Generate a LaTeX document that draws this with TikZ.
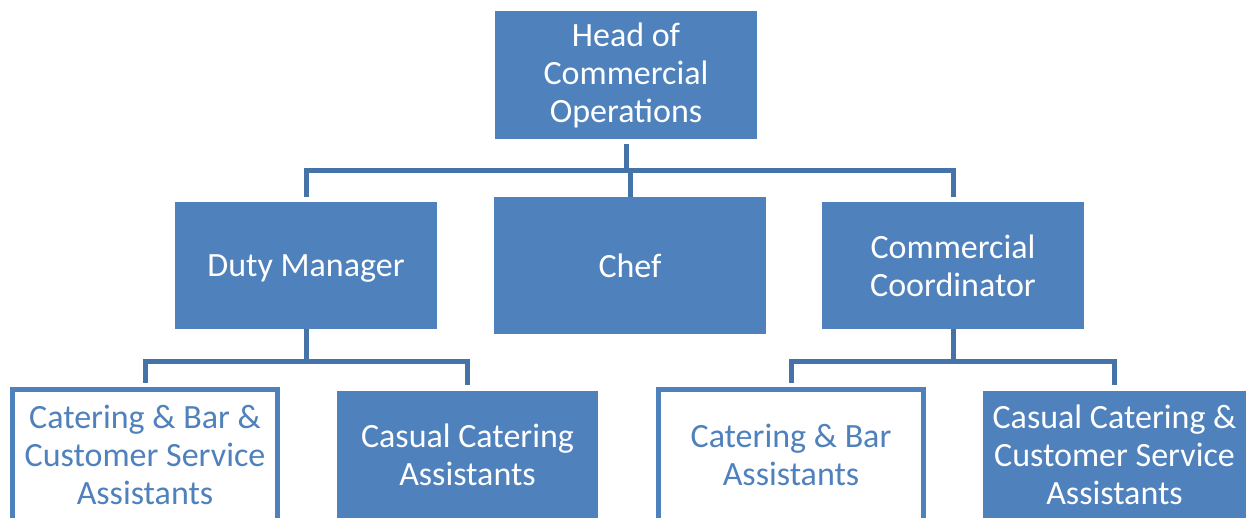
\documentclass[tikz,border=0pt]{standalone}
\usepackage{fontspec}
\setmainfont{Carlito}
\definecolor{boxblue}{HTML}{4F81BD}
\definecolor{lineblue}{HTML}{4573A8}
\begin{document}
\begin{tikzpicture}[x=1pt,y=-1pt,
  every node/.style={inner sep=0pt, align=center, font=\fontsize{34}{38}\selectfont},
  filledbox/.style={fill=boxblue, draw=none, text=white},
  whitebox/.style={fill=white, draw=boxblue, line width=5pt, text=boxblue},
  wtext/.style={text=boxblue, align=center, yshift=10pt},
  conn/.style={draw=lineblue, line width=5pt, line join=miter}]
\useasboundingbox (0,0) rectangle (1246,518);
\clip (0,0) rectangle (1246,518);
% top level
\node[filledbox, minimum width=262pt, minimum height=128pt] (head) at (626,75) {Head of\\Commercial\\Operations};
% second level
\node[filledbox, minimum width=262pt, minimum height=127pt,
  label={[text=white, yshift=-3pt]center:Duty Manager}] (duty) at (306,265.5) {};
\node[filledbox, minimum width=272pt, minimum height=137pt] (chef) at (630,265.5) {Chef};
\node[filledbox, minimum width=262pt, minimum height=127pt] (coord) at (953,265.5) {Commercial\\Coordinator};
% third level
\node[whitebox, minimum width=265pt, minimum height=150pt,
  label={[wtext]center:{Catering \& Bar \&\\Customer Service\\Assistants}}] (w1) at (145,464.5) {};
\node[filledbox, minimum width=261pt, minimum height=128pt] (c1) at (467.5,455) {Casual Catering\\Assistants};
\node[whitebox, minimum width=265pt, minimum height=150pt,
  label={[wtext]center:{Catering \& Bar\\Assistants}}] (w2) at (791,464.5) {};
\node[filledbox, minimum width=263pt, minimum height=128pt] (c2) at (1114.5,455) {Casual Catering \&\\Customer Service\\Assistants};
% connectors
\coordinate (j0) at (626,171);
\coordinate (j1) at (306,361);
\coordinate (j2) at (953,361);
\draw[conn] ([yshift=-5pt]head.south) -- (j0);
\draw[conn] ([yshift=5pt]duty.north) |- (j0) -| ([yshift=5pt]coord.north);
\draw[conn] (j0 -| chef.north) -- (chef.north);
\draw[conn] (duty.south) -- (j1);
\draw[conn] ([yshift=4.5pt]w1.north) |- (j1) -| ([yshift=6pt]c1.north);
\draw[conn] (coord.south) -- (j2);
\draw[conn] ([yshift=4.5pt]w2.north) |- (j2) -| ([yshift=6pt]c2.north);
\end{tikzpicture}
\end{document}
